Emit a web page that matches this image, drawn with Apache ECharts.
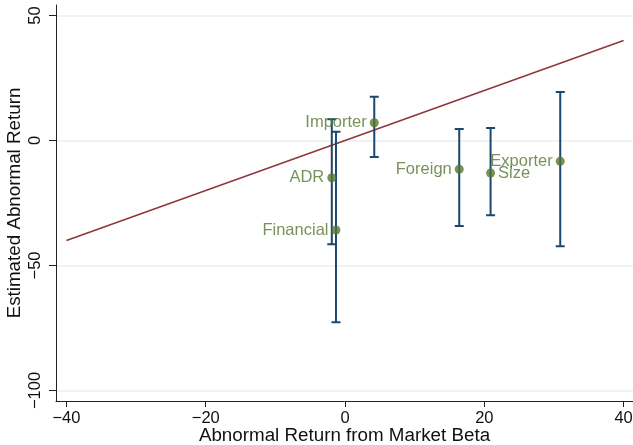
<!DOCTYPE html>
<html>
<head>
<meta charset="utf-8">
<script src="https://cdn.jsdelivr.net/npm/echarts@6/dist/echarts.min.js"></script>
<style>
  html, body { margin: 0; padding: 0; background: #fff; }
  #chart { width: 633px; height: 445px; }
</style>
</head>
<body>
<div id="chart"></div>
<script>
// Characteristic-sorted portfolios: market-beta abnormal return vs estimated abnormal return
const groups    = ['Importer', 'ADR', 'Financial', 'Foreign', 'Size', 'Exporter'];
const betaRet   = [4.2, -1.9, -1.3, 16.4, 20.9, 30.9];      // x
const estRet    = [7.1, -14.9, -35.8, -11.5, -13.0, -8.3];  // y
const ciLow     = [-6.6, -41.5, -72.7, -34.2, -29.9, -42.3];
const ciHigh    = [17.5, 8.5, 3.5, 4.6, 5.0, 19.4];
const labelSide = ['left', 'left', 'left', 'left', 'right', 'left'];

const xTicks = [-40, -20, 0, 20, 40];
const yTicks = [-100, -50, 0, 50];
const diagonal = [[-40, -40], [40, 40]];

const NAVY = '#1a476f', MAROON = '#90353b', GREEN = '#55752f';
const FONT = 'Liberation Sans, Arial, sans-serif';
const minus = v => String(v).replace('-', '\u2212');

const chart = echarts.init(document.getElementById('chart'), null, { renderer: 'canvas' });

chart.setOption({
  animation: false,
  backgroundColor: '#fff',
  textStyle: { fontFamily: FONT },
  grid: { left: 56, right: 0, top: 5, bottom: 44, containLabel: false, outerBoundsMode: 'none' },
  xAxis: {
    type: 'value', min: -41.5, max: 41.35,
    name: 'Abnormal Return from Market Beta',
    nameLocation: 'middle', nameGap: 25, nameMoveOverlap: false,
    nameTextStyle: { fontSize: 18.8, color: '#111', fontFamily: FONT },
    axisLine: { show: true, onZero: false, lineStyle: { color: '#222', width: 1 } },
    axisTick: { show: true, length: 6, customValues: xTicks, lineStyle: { color: '#222' } },
    axisLabel: { customValues: xTicks, formatter: minus, fontSize: 16.5, color: '#111', margin: 9, fontFamily: FONT },
    splitLine: { show: false }
  },
  yAxis: {
    type: 'value', min: -104.2, max: 54.2,
    name: 'Estimated Abnormal Return',
    nameLocation: 'middle', nameGap: 32, nameMoveOverlap: false,
    nameTextStyle: { fontSize: 18.8, color: '#111', fontFamily: FONT },
    axisLine: { show: true, onZero: false, lineStyle: { color: '#222', width: 1 } },
    axisTick: { show: true, length: 7, customValues: yTicks, lineStyle: { color: '#222' } },
    axisLabel: { customValues: yTicks, formatter: minus, rotate: 90, fontSize: 16.5, color: '#111', margin: 12, fontFamily: FONT },
    splitLine: { show: false }
  },
  series: [
    {
      // horizontal grid lines at the y ticks
      type: 'line', data: [], silent: true, z: 0, zlevel: 0,
      markLine: {
        symbol: 'none', silent: true, label: { show: false }, z: 0,
        lineStyle: { color: '#e9eff2', width: 1.5, type: 'solid' },
        data: yTicks.map(v => ({ yAxis: v }))
      }
    },
    {
      type: 'line', data: diagonal, showSymbol: false, silent: true,
      lineStyle: { color: MAROON, width: 1.5 }, z: 2
    },
    {
      type: 'custom', z: 3,
      data: groups.map((g, i) => [betaRet[i], ciLow[i], ciHigh[i]]),
      renderItem: (params, api) => {
        const lo = api.coord([api.value(0), api.value(1)]);
        const hi = api.coord([api.value(0), api.value(2)]);
        const w = 4.5;
        const style = { stroke: NAVY, lineWidth: 2 };
        return {
          type: 'group',
          children: [
            { type: 'line', shape: { x1: lo[0], y1: lo[1], x2: hi[0], y2: hi[1] }, style },
            { type: 'line', shape: { x1: lo[0] - w, y1: lo[1], x2: lo[0] + w, y2: lo[1] }, style },
            { type: 'line', shape: { x1: hi[0] - w, y1: hi[1], x2: hi[0] + w, y2: hi[1] }, style }
          ]
        };
      }
    },
    {
      type: 'scatter', z: 4, symbol: 'circle', symbolSize: 9,
      itemStyle: { color: GREEN },
      data: groups.map((g, i) => ({
        name: g, value: [betaRet[i], estRet[i]],
        label: { position: labelSide[i] }
      })),
      label: {
        show: true, formatter: '{b}', color: GREEN, fontSize: 16.5, distance: 3, fontFamily: FONT
      }
    }
  ]
});
</script>
</body>
</html>
